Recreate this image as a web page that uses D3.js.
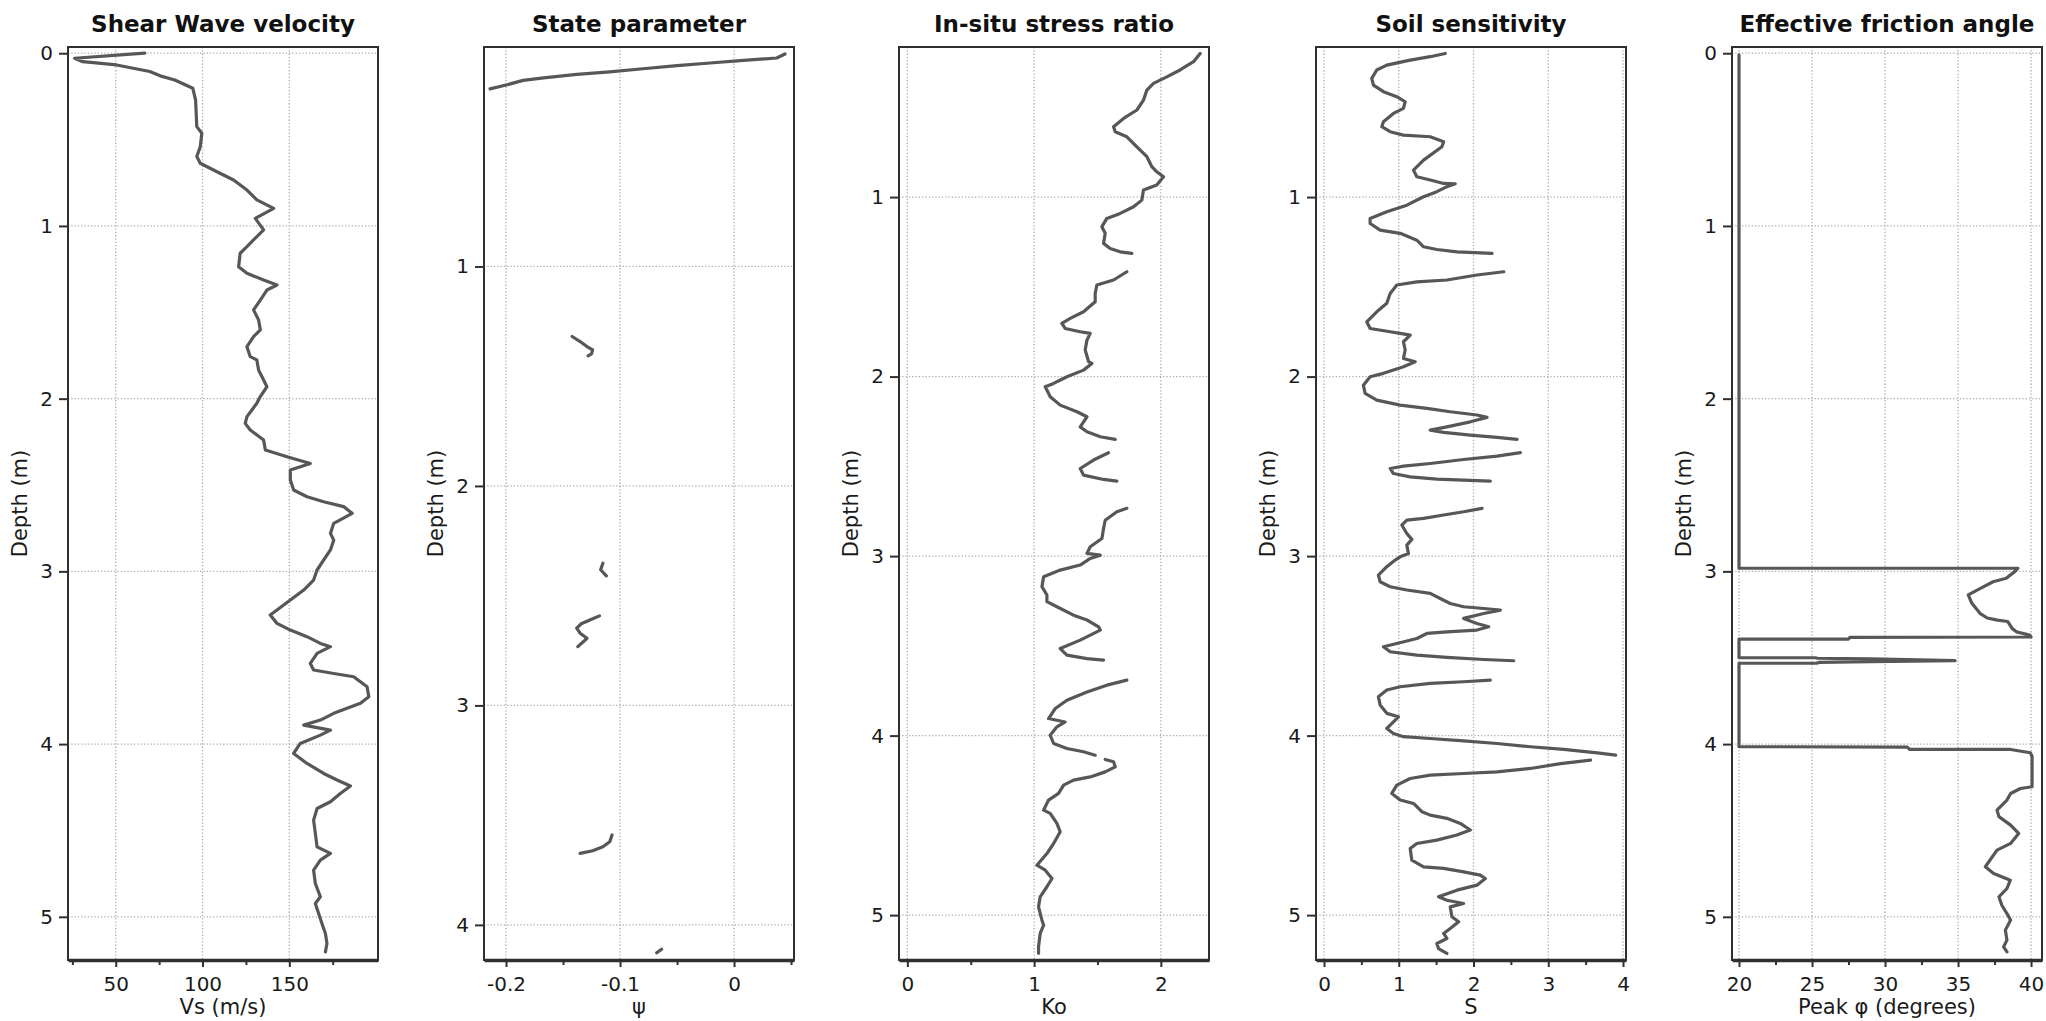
<!DOCTYPE html>
<html><head><meta charset="utf-8">
<script src="https://cdn.jsdelivr.net/npm/d3@7"></script>
<style>
html,body{margin:0;padding:0;background:#fff;}
svg{display:block;font-family:"DejaVu Sans",Verdana,sans-serif;}
</style></head><body>
<svg id="chart" width="2046" height="1021"></svg>
<script>
// ---------- text ----------
const panelTitles = ["Shear Wave velocity","State parameter","In-situ stress ratio","Soil sensitivity","Effective friction angle"];
const xAxisLabels = ["Vs (m/s)","\u03C8","Ko","S","Peak \u03C6 (degrees)"];
const depthLabel = "Depth (m)";

// ---------- tick values ----------
const vsXTicks = [50,100,150], vsXMinor = [25,75,125,175], vsYTicks = [0,1,2,3,4,5];
const psiXTicks = [-0.2,-0.1,0], psiXMinor = [-0.15,-0.05,0.05], psiYTicks = [1,2,3,4];
const koXTicks = [0,1,2], koXMinor = [0.5,1.5], koYTicks = [1,2,3,4,5];
const sXTicks = [0,1,2,3,4], sXMinor = [0.5,1.5,2.5,3.5], sYTicks = [1,2,3,4,5];
const phiXTicks = [20,25,30,35,40], phiXMinor = [22.5,27.5,32.5,37.5], phiYTicks = [0,1,2,3,4,5];

// ---------- series (depth in m, value) ; null = gap ----------
const vsDepth = [0.00,0.029,0.049,0.068,0.106,0.131,0.155,0.183,0.203,0.270,0.425,0.463,0.541,0.598,0.637,0.676,0.734,0.792,0.849,0.898,0.956,1.023,1.081,1.120,1.158,1.236,1.274,1.313,1.342,1.371,1.429,1.486,1.544,1.602,1.641,1.699,1.757,1.776,1.834,1.892,1.931,1.988,2.027,2.104,2.143,2.181,2.239,2.297,2.336,2.375,2.413,2.471,2.529,2.568,2.597,2.625,2.664,2.722,2.780,2.819,2.876,2.934,2.992,3.050,3.108,3.166,3.224,3.253,3.301,3.340,3.378,3.417,3.436,3.475,3.533,3.571,3.591,3.610,3.668,3.726,3.764,3.793,3.822,3.861,3.890,3.919,3.948,3.996,4.054,4.112,4.170,4.208,4.243,4.286,4.334,4.373,4.440,4.517,4.595,4.633,4.672,4.730,4.807,4.884,4.923,4.981,5.039,5.097,5.154,5.203];
const vsValue = [66.7,26.3,31.0,50.5,69.6,75.6,84.0,90.0,94.4,96.0,96.7,99.6,98.7,96.7,98.7,106.3,117.9,125.6,131.3,141.0,130.4,135.2,129.4,125.6,121.7,120.8,125.6,135.2,142.9,137.1,133.3,129.4,132.3,133.3,129.4,125.6,127.5,131.3,132.3,135.2,137.1,133.3,131.3,125.6,124.6,127.5,135.2,136.2,148.7,162.1,150.6,150.6,152.5,160.2,169.8,181.3,186.2,175.6,173.7,175.6,173.7,169.8,166.0,164.0,158.3,150.6,142.9,139.0,142.9,150.6,160.2,167.9,173.7,166.0,162.1,164.0,175.6,187.1,194.8,195.8,191.0,183.3,175.6,167.9,158.3,173.7,167.9,156.3,152.5,160.2,169.8,177.5,185.2,179.4,173.7,166.0,164.0,165.0,166.0,173.7,167.9,164.0,165.0,167.9,165.0,166.9,168.8,170.8,171.7,170.8];

const psiDepth = [0.032,0.050,0.061,0.073,0.085,0.099,0.113,0.125,0.141,0.152,0.172,0.191,null,
  1.319,1.342,1.365,1.380,1.398,1.407,null,
  2.352,2.382,2.410,null,
  2.592,2.610,2.628,2.648,2.671,2.694,2.709,2.732,null,
  3.590,3.621,3.644,3.662,3.674,null,
  4.111,4.127];
const psiValue = [0.0447,0.0374,0.0082,-0.021,-0.050,-0.080,-0.109,-0.138,-0.167,-0.185,-0.199,-0.214,null,
  -0.142,-0.135,-0.129,-0.124,-0.125,-0.128,null,
  -0.115,-0.117,-0.112,null,
  -0.118,-0.126,-0.134,-0.138,-0.135,-0.129,-0.132,-0.137,null,
  -0.107,-0.109,-0.115,-0.124,-0.135,null,
  -0.0635,-0.0678];

const koDepth = [0.200,0.246,0.292,0.330,0.367,0.404,0.460,0.515,0.562,0.608,0.636,0.664,0.720,0.775,0.831,0.859,0.887,0.933,0.961,1.017,1.054,1.091,1.119,1.165,1.202,1.258,1.286,1.305,1.314,null,
  1.416,1.462,1.490,1.537,1.583,1.639,1.676,1.704,1.732,1.750,1.759,1.797,1.852,1.917,1.927,1.964,2.001,2.038,2.057,2.112,2.159,2.196,2.224,2.280,2.307,2.335,2.350,null,
  2.424,2.465,2.512,2.549,2.573,2.582,null,
  2.734,2.753,2.800,2.846,2.902,2.948,2.985,2.995,3.013,3.050,3.078,3.115,3.170,3.217,3.254,3.282,3.329,3.356,3.394,3.412,3.468,3.515,3.552,3.571,3.580,null,
  3.691,3.719,3.757,3.803,3.849,3.905,3.924,3.951,3.998,4.044,4.072,4.090,4.109,null,
  4.133,4.146,4.174,4.202,4.230,4.248,4.276,4.322,4.359,4.415,4.433,4.489,4.536,4.601,4.657,4.722,4.750,4.796,4.842,4.898,4.954,5.028,5.056,5.102,5.176,5.213];
const koValue = [2.310,2.258,2.152,2.047,1.942,1.890,1.863,1.811,1.706,1.627,1.640,1.732,1.811,1.890,1.929,1.968,2.021,1.968,1.863,1.850,1.785,1.679,1.574,1.535,1.561,1.548,1.600,1.679,1.771,null,
  1.732,1.627,1.495,1.482,1.482,1.390,1.285,1.219,1.245,1.364,1.443,1.417,1.403,1.430,1.456,1.390,1.259,1.154,1.088,1.127,1.206,1.338,1.417,1.364,1.417,1.522,1.640,null,
  1.587,1.469,1.364,1.390,1.548,1.653,null,
  1.732,1.653,1.561,1.548,1.535,1.443,1.417,1.522,1.443,1.364,1.206,1.075,1.062,1.101,1.101,1.180,1.311,1.417,1.509,1.522,1.364,1.206,1.259,1.417,1.548,null,
  1.732,1.574,1.417,1.259,1.167,1.114,1.245,1.180,1.127,1.154,1.259,1.390,1.482,null,
  1.561,1.627,1.640,1.561,1.443,1.311,1.233,1.193,1.114,1.075,1.127,1.180,1.206,1.154,1.101,1.022,1.088,1.141,1.101,1.048,1.035,1.062,1.075,1.048,1.035,1.035];

const sDepth = [0.200,0.218,0.237,0.265,0.292,0.339,0.376,0.413,0.441,0.469,0.506,0.534,0.580,0.608,0.636,0.655,0.664,0.692,0.720,0.794,0.850,0.887,0.905,0.924,0.926,0.942,0.970,0.998,1.045,1.082,1.119,1.147,1.184,1.202,1.240,1.277,1.292,1.305,1.314,null,
  1.416,1.434,1.462,1.472,1.490,1.537,1.592,1.639,1.695,1.732,1.750,1.759,1.769,1.806,1.852,1.899,1.917,1.945,1.982,2.001,2.048,2.094,2.131,2.159,2.177,2.196,2.214,2.227,2.252,2.280,2.298,2.311,2.326,2.339,2.350,null,
  2.424,2.443,2.462,2.484,2.499,2.512,2.540,2.559,2.571,2.577,2.582,null,
  2.734,2.753,2.771,2.790,2.800,2.827,2.874,2.907,2.939,2.986,3.004,3.022,3.059,3.106,3.143,3.171,3.189,3.208,3.236,3.264,3.282,3.292,3.301,3.320,3.347,3.375,3.394,3.412,3.422,3.431,3.459,3.487,3.505,3.533,3.552,3.564,3.576,3.583,null,
  3.691,3.700,3.709,3.728,3.746,3.783,3.830,3.876,3.895,3.923,3.960,3.988,4.006,4.016,4.029,4.044,4.062,4.077,4.096,4.109,null,
  4.137,4.156,4.183,4.202,4.211,4.220,4.239,4.276,4.322,4.359,4.378,4.424,4.443,4.461,4.489,4.526,4.554,4.582,4.601,4.629,4.694,4.731,4.740,4.759,4.777,4.796,4.833,4.861,4.898,4.917,4.935,4.954,5.009,5.037,5.074,5.102,5.130,5.158,5.186,5.213];
const sValue = [1.622,1.421,1.153,0.840,0.706,0.639,0.661,0.795,0.974,1.086,1.063,0.929,0.795,0.773,0.885,1.063,1.421,1.600,1.577,1.332,1.197,1.242,1.421,1.600,1.756,1.644,1.510,1.332,1.108,0.840,0.617,0.617,0.751,1.019,1.242,1.332,1.510,1.778,2.248,null,
  2.404,2.046,1.644,1.242,0.974,0.885,0.840,0.706,0.572,0.617,0.885,1.019,1.153,1.063,1.086,1.063,1.220,1.063,0.795,0.617,0.527,0.550,0.706,1.019,1.376,1.689,2.046,2.181,1.957,1.644,1.421,1.600,1.957,2.315,2.583,null,
  2.627,2.315,1.868,1.421,1.063,0.885,0.929,1.153,1.510,1.868,2.225,null,
  2.114,1.868,1.600,1.332,1.108,1.041,1.108,1.175,1.108,1.130,1.019,0.952,0.840,0.728,0.751,0.885,1.108,1.421,1.555,1.689,1.868,2.136,2.359,2.136,1.868,2.046,2.203,2.046,1.644,1.376,1.242,0.974,0.795,0.885,1.242,1.644,2.136,2.538,null,
  2.225,1.868,1.421,1.019,0.840,0.728,0.751,0.840,0.996,0.929,0.840,0.929,1.063,1.421,1.868,2.315,2.761,3.208,3.655,3.901,null,
  3.566,3.164,2.761,2.315,1.868,1.421,1.153,0.974,0.907,1.019,1.198,1.309,1.421,1.644,1.823,1.957,1.778,1.510,1.242,1.153,1.175,1.332,1.600,1.868,2.091,2.158,2.046,1.778,1.532,1.644,1.868,1.689,1.711,1.801,1.689,1.600,1.644,1.510,1.532,1.644];

const phiDepth = [0.010,2.982,2.982,3.000,3.040,3.060,3.100,3.136,3.185,3.243,3.270,3.282,3.290,3.330,3.350,3.368,3.380,3.382,3.392,3.392,3.500,3.500,3.503,3.506,3.517,3.522,3.527,3.532,3.532,4.015,4.017,4.031,4.031,4.050,4.070,4.247,4.257,4.286,4.324,4.382,4.420,4.469,4.517,4.575,4.614,4.710,4.749,4.788,4.836,4.884,4.933,4.981,5.019,5.077,5.135,5.174,5.203];
const phiValue = [20.0,20.0,39.1,38.9,38.3,37.4,36.5,35.7,35.95,36.5,37.0,37.7,38.4,38.7,39.0,39.9,40.0,27.6,27.5,20.0,20.0,25.2,25.4,29.0,34.8,29.0,25.5,25.3,20.0,20.0,31.5,31.7,38.6,39.95,40.07,40.07,39.27,38.6,38.35,37.67,37.8,38.6,39.15,38.6,37.67,36.87,37.44,38.58,38.35,37.8,38.0,38.35,38.6,38.24,38.35,38.12,38.35];

// ---------- layout ----------
const panelLeft = [68,484,899,1316,1732];
const plotW = 310, plotTop = 47, plotBottom = 960;

const panels = [
  {depth: vsDepth, value: vsValue, xDom:[22.5,201.1], yDom:[-0.036,5.25], xt: vsXTicks, xm: vsXMinor, yt: vsYTicks},
  {depth: psiDepth, value: psiValue, xDom:[-0.2193,0.0526], yDom:[0,4.16], xt: psiXTicks, xm: psiXMinor, yt: psiYTicks},
  {depth: koDepth, value: koValue, xDom:[-0.066,2.38], yDom:[0.164,5.25], xt: koXTicks, xm: koXMinor, yt: koYTicks},
  {depth: sDepth, value: sValue, xDom:[-0.107,4.04], yDom:[0.164,5.25], xt: sXTicks, xm: sXMinor, yt: sYTicks},
  {depth: phiDepth, value: phiValue, xDom:[19.52,40.75], yDom:[-0.036,5.25], xt: phiXTicks, xm: phiXMinor, yt: phiYTicks}
];

const svg = d3.select("#chart");
const lineColor = "#575757", frameColor = "#303030", textColor = "#1a1a1a";

panels.forEach((p, i) => {
  const L = panelLeft[i];
  const x = d3.scaleLinear().domain(p.xDom).range([L, L + plotW]);
  const y = d3.scaleLinear().domain(p.yDom).range([plotTop, plotBottom]);
  const g = svg.append("g");

  // grid
  g.append("g").selectAll("line").data(p.xt).join("line")
    .attr("x1", d => x(d)).attr("x2", d => x(d))
    .attr("y1", plotTop).attr("y2", plotBottom)
    .attr("stroke", "#adadad").attr("stroke-width", 1.3).attr("stroke-dasharray", "1.3,2");
  g.append("g").selectAll("line").data(p.yt).join("line")
    .attr("x1", L).attr("x2", L + plotW)
    .attr("y1", d => y(d)).attr("y2", d => y(d))
    .attr("stroke", "#adadad").attr("stroke-width", 1.3).attr("stroke-dasharray", "1.3,2");

  // series
  const idx = d3.range(p.depth.length);
  const line = d3.line()
    .defined(k => p.value[k] != null && p.depth[k] != null)
    .x(k => x(p.value[k])).y(k => y(p.depth[k]));
  g.append("path").attr("d", line(idx))
    .attr("fill", "none").attr("stroke", lineColor).attr("stroke-width", 3.2)
    .attr("stroke-linejoin", "round").attr("stroke-linecap", "round");

  // frame
  g.append("rect").attr("x", L).attr("y", plotTop).attr("width", plotW).attr("height", plotBottom - plotTop)
    .attr("fill", "none").attr("stroke", frameColor).attr("stroke-width", 2);

  // x axis (major)
  const xa = g.append("g").attr("transform", `translate(0,${plotBottom})`)
    .call(d3.axisBottom(x).tickValues(p.xt).tickSize(7).tickSizeOuter(0).tickPadding(10).tickFormat(d => String(d)));
  xa.select(".domain").attr("stroke", frameColor).attr("stroke-width", 3.5);
  xa.selectAll(".tick line").attr("stroke", frameColor).attr("stroke-width", 2);
  xa.selectAll(".tick text").attr("font-size", 20).attr("fill", textColor).attr("font-family", "DejaVu Sans, sans-serif");
  // x axis (minor)
  const xm = g.append("g").attr("transform", `translate(0,${plotBottom})`)
    .call(d3.axisBottom(x).tickValues(p.xm).tickSize(5).tickFormat(""));
  xm.select(".domain").remove();
  xm.selectAll(".tick line").attr("stroke", frameColor).attr("stroke-width", 2);

  // y axis
  const ya = g.append("g").attr("transform", `translate(${L},0)`)
    .call(d3.axisLeft(y).tickValues(p.yt).tickSize(9).tickSizeOuter(0).tickPadding(6).tickFormat(d => String(d)));
  ya.select(".domain").remove();
  ya.selectAll(".tick line").attr("stroke", frameColor).attr("stroke-width", 2);
  ya.selectAll(".tick text").attr("font-size", 20).attr("fill", textColor).attr("font-family", "DejaVu Sans, sans-serif");

  // titles
  g.append("text").attr("x", L + plotW / 2).attr("y", 32).attr("text-anchor", "middle")
    .attr("font-size", 23).attr("font-weight", "bold").attr("fill", "#111").text(panelTitles[i]);
  g.append("text").attr("x", L + plotW / 2).attr("y", 1014).attr("text-anchor", "middle")
    .attr("font-size", 21).attr("fill", textColor).text(xAxisLabels[i]);
  g.append("text").attr("transform", `translate(${L - 41},${(plotTop + plotBottom) / 2}) rotate(-90)`)
    .attr("text-anchor", "middle").attr("font-size", 21).attr("fill", textColor).text(depthLabel);
});
</script>
</body></html>
